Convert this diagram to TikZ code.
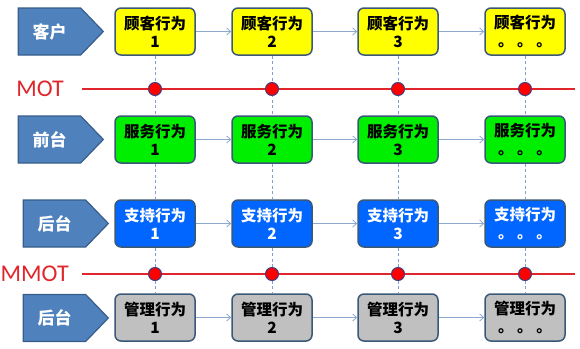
\documentclass[tikz,border=0pt]{standalone}
\usepackage{fontspec}
\setmainfont{Carlito}
\newfontfamily\cjk{Noto Sans CJK SC}
\usetikzlibrary{shapes.symbols,arrows.meta}
\definecolor{lblfill}{HTML}{4F81BD}
\definecolor{lbledge}{HTML}{385D8A}
\definecolor{boxedge}{HTML}{3A5878}
\definecolor{cyel}{HTML}{FFFF00}
\definecolor{cgrn}{HTML}{00EE00}
\definecolor{cblu}{HTML}{0066FF}
\definecolor{cgry}{HTML}{C0C0C0}
\definecolor{motred}{HTML}{E0262B}
\definecolor{dotedge}{HTML}{3F3F7F}
\definecolor{dashc}{HTML}{7F9FCF}
\definecolor{arrc}{HTML}{8EA9CF}
\tikzset{
  lane/.style={shape=signal, signal to=east, signal from=nowhere, signal pointer angle=92,
    fill=lblfill, draw=lbledge, line width=1.2pt, minimum width=85pt, minimum height=47pt,
    text=white, font=\cjk\bfseries\fontsize{17}{20}\selectfont, inner sep=0pt},
  act/.style={rectangle, rounded corners=6pt, draw=boxedge, line width=1.5pt,
    minimum width=80pt, minimum height=47pt, align=center, inner sep=0pt,
    font=\cjk\bfseries\fontsize{15.5}{18}\selectfont},
  flow/.style={draw=arrc, line width=0.8pt, -{Straight Barb[length=4pt,width=7pt]}},
  vdash/.style={draw=dashc, line width=0.8pt, dash pattern=on 3pt off 2.5pt},
  motline/.style={draw=motred, line width=1.8pt},
  motdot/.style={circle, fill=red, draw=dotedge, line width=1pt, minimum size=13pt, inner sep=0pt},
  mottext/.style={text=motred, font=\fontsize{24}{26}\selectfont, inner sep=0pt}
}
\begin{document}
\begin{tikzpicture}[x=1pt,y=-1pt]
\useasboundingbox (0,0) rectangle (580,348);
% lanes
\node[lane] (l1) at (49.5,31.5) {客户};
\node[lane] (l2) at (49.5,139.5) {前台};
\node[lane] (l3) at (54.5,223.5) {后台};
\node[lane] (l4) at (54.5,318) {后台};
% boxes
\foreach \c/\x/\t in {1/155/1,2/272/2,3/398/3,4/525/{。 。 。}}{
  \node[act, fill=cyel] (a\c) at (\x,31.5) {顾客行为\\\t};
  \node[act, fill=cgrn] (b\c) at (\x,139.5) {服务行为\\\t};
  \node[act, fill=cblu, text=white] (c\c) at (\x,223.5) {支持行为\\\t};
  \node[act, fill=cgry] (d\c) at (\x,317.5) {管理行为\\\t};
}
% arrows
\foreach \r in {a,b,c,d}{
  \draw[flow] (\r1) -- (\r2);
  \draw[flow] (\r2) -- (\r3);
  \draw[flow] (\r3) -- (\r4);
}
% vertical dashed
\foreach \c in {1,2,3,4}{
  \draw[vdash] (a\c.south) -- (b\c.north);
  \draw[vdash] (b\c.south) -- (c\c.north);
  \draw[vdash] (c\c.south) -- (d\c.north);
}
% MOT lines
\node[mottext] (mot) at (40,89) {MOT};
\node[mottext, anchor=west] (mmot) at (0.5,274) {MMOT};
\coordinate (m0) at (82,89);
\coordinate (m1) at (575,89);
\coordinate (n0) at (82,274);
\coordinate (n1) at (575,274);
\draw[motline] (m0) -- (m1);
\draw[motline] (n0) -- (n1);
\foreach \c/\x in {1/155,2/272,3/398,4/525}{
  \node[motdot] (p\c) at (\x,89) {};
  \node[motdot] (q\c) at (\x,274) {};
}
\end{tikzpicture}
\end{document}
